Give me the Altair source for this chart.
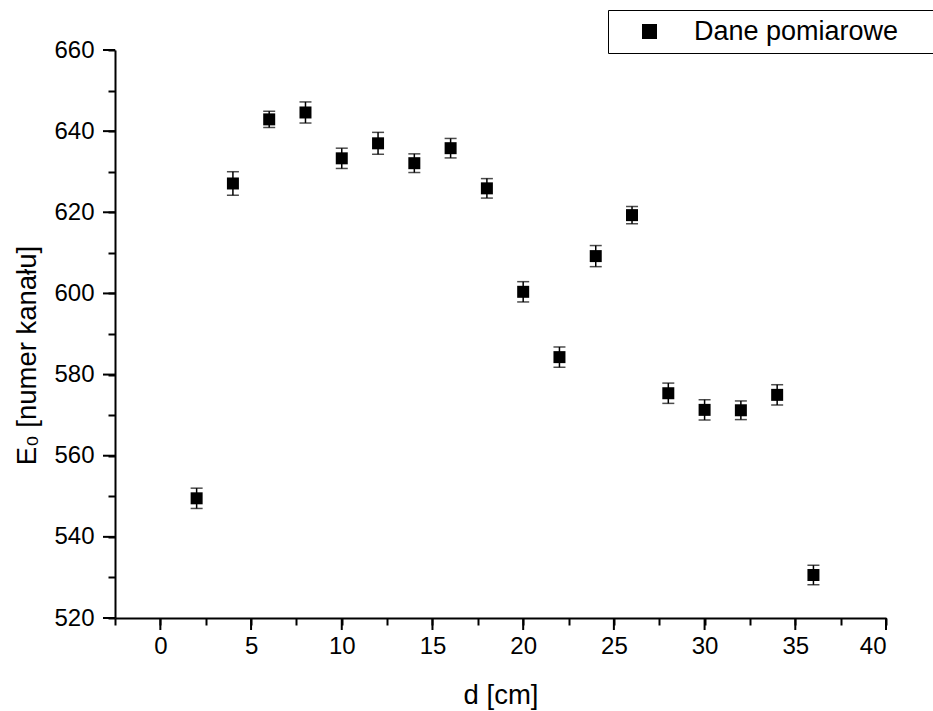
import altair as alt
import pandas as pd

d_cm = [2, 4, 6, 8, 10, 12, 14, 16, 18, 20, 22, 24, 26, 28, 30, 32, 34, 36]
e0 = [549.5, 627.1, 642.9, 644.6, 633.3, 637.0, 632.1, 635.8, 625.9, 600.4,
      584.3, 609.2, 619.3, 575.4, 571.3, 571.2, 575.0, 530.6]
err = [2.5, 2.9, 2.0, 2.6, 2.5, 2.7, 2.3, 2.4, 2.4, 2.5,
       2.5, 2.6, 2.1, 2.5, 2.5, 2.3, 2.5, 2.4]
series_name = "Dane pomiarowe"

x_ticks = [-2.5 + 2.5 * i for i in range(18)]
x_major = [0, 5, 10, 15, 20, 25, 30, 35, 40]
y_ticks = [520 + 10 * i for i in range(15)]
y_major = [520, 540, 560, 580, 600, 620, 640, 660]

df = pd.DataFrame({"d": d_cm, "E": e0, "err": err, "series": series_name})

FONT = "Liberation Sans"
W, H = 771, 568
MAJOR = 12

x_scale = alt.Scale(domain=[-2.5, 40], nice=False, zero=False)
y_scale = alt.Scale(domain=[520, 660], nice=False, zero=False)

x_axis = alt.Axis(
    values=x_ticks,
    labelExpr="datum.value % 5 === 0 ? datum.label : ''",
    tickSize=7,
    labelPadding=9,
    grid=False,
    title="d [cm]",
    titleFontSize=27.5,
    titleFontWeight="normal",
    titleY=85,
    titleBaseline="alphabetic",
)
y_axis = alt.Axis(
    values=y_ticks,
    labelExpr="datum.value % 20 === 0 ? datum.label : ''",
    tickSize=7,
    labelPadding=14,
    grid=False,
    title="E₀ [numer kanału]",
    titleFontSize=27.5,
    titleFontWeight="normal",
    titleX=-88,
    titleY=305,
    titleAngle=270,
    titleAlign="center",
    titleBaseline="middle",
)

base = alt.Chart(df).transform_calculate(
    lo="datum.E - datum.err", hi="datum.E + datum.err"
)

bars = base.mark_rule(color="black", strokeWidth=1.5).encode(
    x=alt.X("d:Q", scale=x_scale, axis=x_axis),
    y=alt.Y("lo:Q", scale=y_scale, axis=y_axis),
    y2="hi:Q",
)
cap_lo = base.mark_tick(color="black", orient="horizontal", size=12, thickness=1.5).encode(
    x=alt.X("d:Q", scale=x_scale), y=alt.Y("lo:Q", scale=y_scale)
)
cap_hi = base.mark_tick(color="black", orient="horizontal", size=12, thickness=1.5).encode(
    x=alt.X("d:Q", scale=x_scale), y=alt.Y("hi:Q", scale=y_scale)
)
points = base.mark_point(shape="square", filled=True, size=144, opacity=1).encode(
    x=alt.X("d:Q", scale=x_scale),
    y=alt.Y("E:Q", scale=y_scale),
    color=alt.Color(
        "series:N",
        scale=alt.Scale(range=["black"]),
        legend=alt.Legend(
            orient="none",
            legendX=493,
            legendY=-40,
            title=None,
            strokeColor="black",
            padding=8,
            symbolType="square",
            symbolSize=225,
            symbolOffset=20,
            symbolStrokeWidth=0,
            labelOffset=31,
            labelFontSize=27,
            labelLimit=600,
            labelExpr="datum.label + '\u00a0\u00a0\u00a0\u00a0\u200b'",
        ),
    ),
)

# longer major ticks on the axes
x_major_ticks = alt.Chart(pd.DataFrame({"t": x_major})).mark_rule(
    color="black", strokeWidth=2
).encode(
    x=alt.X("t:Q", scale=x_scale),
    y=alt.value(H),
    y2=alt.value(H + MAJOR),
)
y_major_ticks = alt.Chart(pd.DataFrame({"t": y_major})).mark_rule(
    color="black", strokeWidth=2
).encode(
    y=alt.Y("t:Q", scale=y_scale),
    x=alt.value(0),
    x2=alt.value(-MAJOR),
)

chart = alt.layer(bars, cap_lo, cap_hi, points, x_major_ticks, y_major_ticks).properties(
    width=W,
    height=H,
    autosize="none",
    padding={"left": 115, "top": 50, "right": 47, "bottom": 93},
).configure(font=FONT).configure_view(stroke=None).configure_axis(
    domainColor="black",
    domainWidth=2,
    tickColor="black",
    tickWidth=2,
    labelColor="black",
    titleColor="black",
    labelFontSize=24,
    labelFont=FONT,
    titleFont=FONT,
).configure_legend(labelFont=FONT, labelColor="black")

chart.save("out.html", embed_options={"renderer": "svg", "actions": False})
